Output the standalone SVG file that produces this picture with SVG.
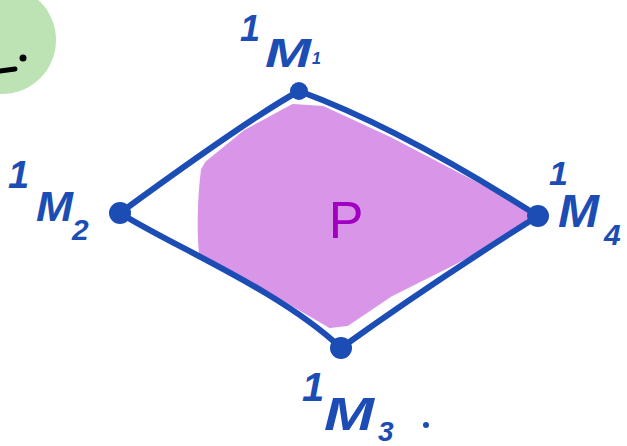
<svg xmlns="http://www.w3.org/2000/svg" width="627" height="446" viewBox="0 0 627 446">
<style>
.lbl{font-family:"Liberation Sans","DejaVu Sans",sans-serif;font-weight:bold;fill:#1b4db4;font-style:italic}
.edge{fill:none;stroke:#1b4db4;stroke-width:6;stroke-linecap:round}
.pt{fill:#1b4db4}
</style>
<rect width="627" height="446" fill="#ffffff"/>
<g id="blob">
<circle cx="2" cy="40" r="54" fill="#bde3b5"/>
<path d="M0 71 L15 69" stroke="#000" stroke-width="5" stroke-linecap="round"/>
<circle cx="23" cy="58" r="3.5" fill="#000"/>
</g>
<g id="region-P">
<path d="M203 170 C199 200 199 235 201 253 L217 266 L272 292 L330 326 L347 324 L390 295 L450 265 L524 226 L526 209 L457 174 L390 139 L323 108 L293 106 L245 132 L207 163 Z" fill="#d995e7" stroke="#d995e7" stroke-width="4" stroke-linejoin="round"/>
<text x="346" y="238" font-family="'Liberation Sans',sans-serif" font-size="52" fill="#a100c2" text-anchor="middle">P</text>
</g>
<g id="connectors">
<path class="edge" d="M299 91 Q250 118 120 213"/>
<path class="edge" d="M299 91 Q400 128 538 216"/>
<path class="edge" d="M120 213 C170 245 280 290 341 348"/>
<path class="edge" d="M341 348 Q430 284 538 216"/>
</g>
<g id="M1">
<circle class="pt" cx="299" cy="91" r="9"/>
<text class="lbl" x="240" y="41" font-size="36">1</text>
<text class="lbl" x="265" y="67" font-size="40" textLength="46" lengthAdjust="spacingAndGlyphs">M</text>
<text class="lbl" x="312" y="64" font-size="16">1</text>
</g>
<g id="M2">
<circle class="pt" cx="120" cy="213" r="11"/>
<text class="lbl" x="8" y="188" font-size="38">1</text>
<text class="lbl" x="36" y="221" font-size="42" textLength="37" lengthAdjust="spacingAndGlyphs">M</text>
<text class="lbl" x="72" y="240" font-size="30">2</text>
</g>
<g id="M3">
<circle class="pt" cx="341" cy="348" r="11"/>
<text class="lbl" x="302" y="401" font-size="40">1</text>
<text class="lbl" x="324" y="430" font-size="46" textLength="50" lengthAdjust="spacingAndGlyphs">M</text>
<text class="lbl" x="378" y="441" font-size="28">3</text>
<circle class="pt" cx="426" cy="425" r="3"/>
</g>
<g id="M4">
<circle class="pt" cx="538" cy="216" r="11"/>
<text class="lbl" x="549" y="185" font-size="34">1</text>
<text class="lbl" x="558" y="227" font-size="46" textLength="41" lengthAdjust="spacingAndGlyphs">M</text>
<text class="lbl" x="604" y="245" font-size="30">4</text>
</g>
</svg>
